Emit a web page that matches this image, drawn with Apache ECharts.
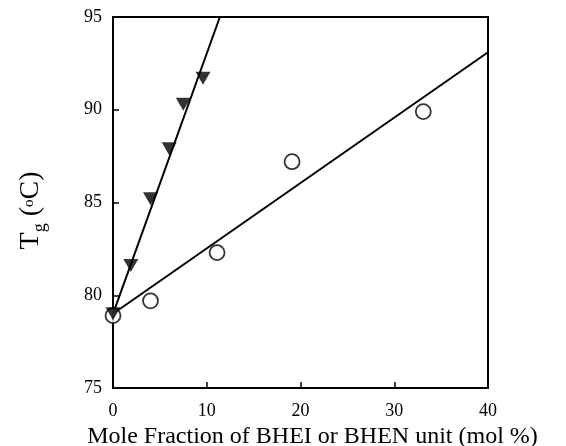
<!DOCTYPE html>
<html>
<head>
<meta charset="utf-8">
<script src="https://cdn.jsdelivr.net/npm/echarts@6/dist/echarts.min.js"></script>
<style>
  html, body { margin: 0; padding: 0; background: #fff; }
  #main { width: 566px; height: 446px; }
</style>
</head>
<body>
<div id="main"></div>
<script>
// measured points
const bhenPoints = [[0, 79], [1.9, 81.6], [4, 85.2], [6, 87.9], [7.5, 90.3], [9.6, 91.7]];
const bheiPoints = [[0, 78.9], [4, 79.7], [11.1, 82.3], [19.1, 87.2], [33.1, 89.9]];
// fitted lines (end points)
const bhenFit = [[0, 79], [11.4, 95]];
const bheiFit = [[0, 79], [40, 93.1]];
const xTicks = [0, 10, 20, 30, 40];
const yTicks = [75, 80, 85, 90, 95];

const font = "'Liberation Serif', 'Times New Roman', serif";

let myChart = echarts.init(document.getElementById("main"));
myChart.setOption({
  animation: false,
  grid: {
    left: 113,
    top: 17,
    right: 78,
    bottom: 58,
    outerBoundsMode: "none",
    containLabel: false,
    show: true,
    borderColor: "#000",
    borderWidth: 2,
  },
  xAxis: {
    type: "value",
    min: xTicks[0],
    max: xTicks[xTicks.length - 1],
    interval: 10,
    name: "Mole Fraction of BHEI or BHEN unit (mol %)",
    nameLocation: "middle",
    nameGap: 30,
    nameTextStyle: { fontFamily: font, fontSize: 24, color: "#000", padding: [0, 0, 0, 24] },
    axisLine: { lineStyle: { color: "#000", width: 2 } },
    axisTick: { inside: true, length: 6, lineStyle: { color: "#000", width: 1.5 } },
    axisLabel: { fontFamily: font, fontSize: 18, color: "#000", margin: 14 },
    splitLine: { show: false },
  },
  yAxis: {
    type: "value",
    min: yTicks[0],
    max: yTicks[yTicks.length - 1],
    interval: 5,
    name: "T{sub|g} {paren|(}{sup|o}{paren|C)}",
    nameLocation: "middle",
    nameRotate: 90,
    nameGap: 64,
    nameTextStyle: {
      fontFamily: font,
      fontSize: 28,
      color: "#000",
      padding: [0, 16, 0, 0],
      rich: {
        sub: { fontFamily: font, fontSize: 18, color: "#000", verticalAlign: "top", padding: [18, 0, 0, 0] },
        sup: { fontFamily: font, fontSize: 15, color: "#000", verticalAlign: "bottom", padding: [0, 0, 12, 0] },
        paren: { fontFamily: font, fontSize: 28, color: "#000" },
      },
    },
    axisLine: { lineStyle: { color: "#000", width: 2 } },
    axisTick: { inside: true, length: 6, lineStyle: { color: "#000", width: 1.5 } },
    axisLabel: { fontFamily: font, fontSize: 18, color: "#000", margin: 11 },
    splitLine: { show: false },
  },
  series: [
    {
      name: "BHEN fit",
      type: "line",
      data: bhenFit,
      symbol: "none",
      lineStyle: { color: "#000", width: 2 },
      z: 2,
    },
    {
      name: "BHEI fit",
      type: "line",
      data: bheiFit,
      symbol: "none",
      lineStyle: { color: "#000", width: 2 },
      z: 2,
    },
    {
      name: "BHEI",
      type: "scatter",
      data: bheiPoints,
      symbol: "circle",
      symbolSize: 15,
      itemStyle: { color: "#fff", borderColor: "#000", borderWidth: 1.8 },
      z: 3,
    },
    {
      name: "BHEN",
      type: "scatter",
      data: bhenPoints,
      symbol: "triangle",
      symbolRotate: 180,
      symbolSize: [15, 13],
      itemStyle: { color: "#000" },
      z: 4,
    },
  ],
});
</script>
</body>
</html>
